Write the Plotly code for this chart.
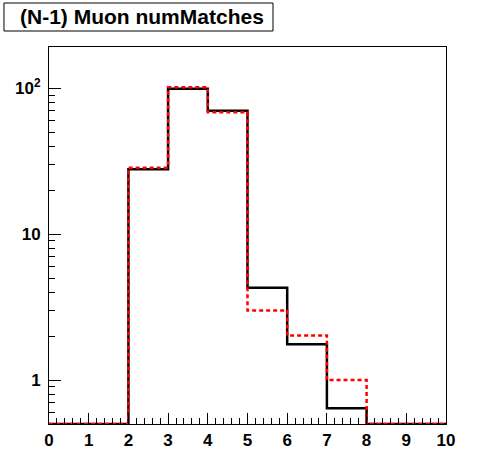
import plotly.graph_objects as go

bin_edges = [0, 1, 2, 3, 4, 5, 6, 7, 8, 9, 10]
black_counts = [0, 0, 27.9, 99.4, 70.3, 4.3, 1.76, 0.64, 0, 0]
red_counts = [0, 0, 28.6, 101.6, 68.5, 3.0, 2.02, 1.0, 0, 0]
y_tick_vals = [1, 10, 100]
y_tick_text = ["1", "10", "10<sup>2</sup>"]
x_tick_vals = [0, 1, 2, 3, 4, 5, 6, 7, 8, 9, 10]
title_text = "(N-1) Muon numMatches"

y_min = 0.5
y_max = 192.0

def step_xy(edges, counts):
    ys = [max(c, y_min) for c in counts]
    return list(edges), ys + [ys[-1]]

fig = go.Figure()
bx, by = step_xy(bin_edges, black_counts)
rx, ry = step_xy(bin_edges, red_counts)
fig.add_trace(go.Scatter(x=bx, y=by, mode="lines", line=dict(color="black", width=2.5, shape="hv"),
                         showlegend=False, hoverinfo="skip"))
fig.add_trace(go.Scatter(x=rx, y=ry, mode="lines", line=dict(color="red", width=2.5, shape="hv", dash="4px,3px"),
                         showlegend=False, hoverinfo="skip"))

tickfont = dict(family="Liberation Sans, Arial, sans-serif", size=17, color="black", weight="bold")

fig.update_layout(
    width=496, height=472,
    margin=dict(l=49, r=50, t=47, b=48),
    paper_bgcolor="white", plot_bgcolor="white",
    xaxis=dict(range=[0, 10], tickvals=x_tick_vals, ticks="inside", ticklen=11, tickwidth=1, tickcolor="black",
               showline=True, linecolor="black", linewidth=1, mirror=True, showgrid=False, zeroline=False,
               tickfont=tickfont, ticklabelstandoff=1,
               minor=dict(dtick=0.2, ticks="inside", ticklen=6, tickcolor="black", showgrid=False)),
    yaxis=dict(type="log", range=[-0.30103, 2.2833], tickvals=y_tick_vals, ticktext=y_tick_text,
               ticks="inside", ticklen=12, tickwidth=1, tickcolor="black",
               showline=True, linecolor="black", linewidth=1, mirror=True, showgrid=False, zeroline=False,
               tickfont=tickfont, ticklabelstandoff=4,
               minor=dict(dtick="D1", ticks="inside", ticklen=6, tickcolor="black", showgrid=False)),
)

fig.add_shape(type="rect", xref="paper", yref="paper", x0=-0.1134, x1=0.5642, y0=1.0424, y1=1.1167,
              line=dict(color="black", width=1), fillcolor="white")
fig.add_annotation(xref="paper", yref="paper", x=0.233, y=1.0796, text=title_text, showarrow=False,
                   xanchor="center", yanchor="middle",
                   font=dict(family="Liberation Sans, Arial, sans-serif", size=21, color="black", weight="bold"))

fig.write_html("out.html", config={"displayModeBar": False},
               post_script="document.body.style.margin='0';document.body.style.overflow='hidden';")
